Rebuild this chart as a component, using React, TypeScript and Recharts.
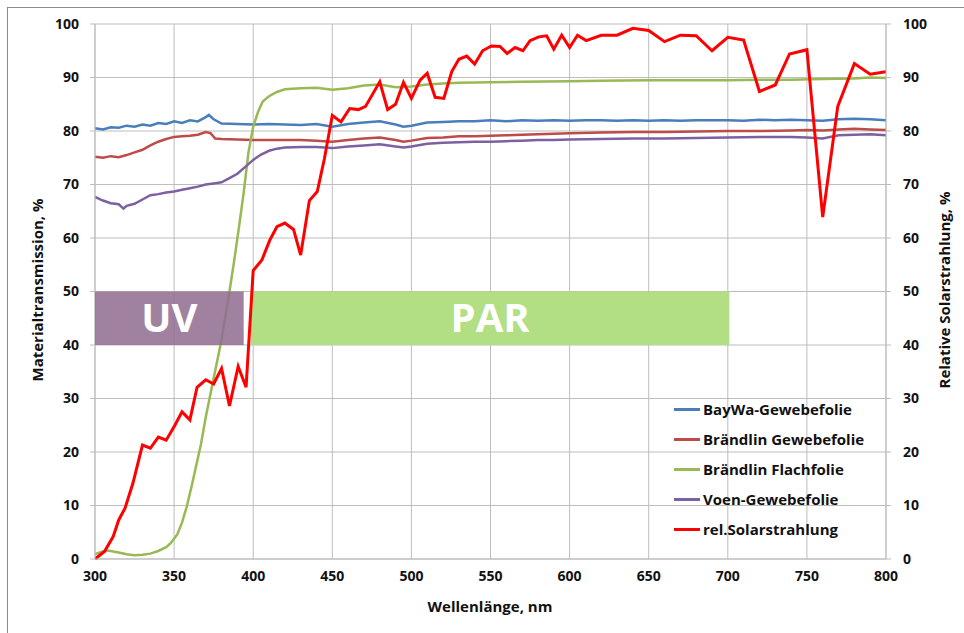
import { LineChart, Line, XAxis, YAxis, CartesianGrid, Legend, ReferenceArea } from 'recharts';

type Pt = [number, number];

const FONT = '"Open Sans", "Noto Sans", sans-serif';

const xTicks = [300, 350, 400, 450, 500, 550, 600, 650, 700, 750, 800];
const yTicks = [0, 10, 20, 30, 40, 50, 60, 70, 80, 90, 100];

// [wavelength nm, value %]
const bayWa: Pt[] = [
  [300, 80.5], [305, 80.3], [310, 80.7], [315, 80.6], [320, 81.0], [325, 80.8], [330, 81.2], [335, 81.0],
  [340, 81.5], [345, 81.3], [350, 81.8], [355, 81.5], [360, 82.0], [365, 81.8], [370, 82.6], [372, 83.0],
  [375, 82.2], [380, 81.4], [390, 81.3], [400, 81.2], [410, 81.3], [420, 81.2], [430, 81.1], [440, 81.3],
  [450, 80.8], [460, 81.3], [470, 81.6], [480, 81.8], [490, 81.2], [495, 80.8], [500, 81.0], [510, 81.6],
  [520, 81.7], [530, 81.8], [540, 81.8], [550, 82.0], [560, 81.8], [570, 82.0], [580, 81.9], [590, 82.0],
  [600, 81.9], [610, 82.0], [620, 82.0], [630, 81.9], [640, 82.0], [650, 81.9], [660, 82.0], [670, 81.9],
  [680, 82.0], [690, 82.0], [700, 82.0], [710, 81.9], [720, 82.1], [730, 82.0], [740, 82.1], [750, 82.0],
  [760, 81.9], [770, 82.2], [780, 82.3], [790, 82.2], [800, 82.0],
];

const braendlinGewebe: Pt[] = [
  [300, 75.2], [305, 75.0], [310, 75.3], [315, 75.1], [320, 75.5], [325, 76.0], [330, 76.5], [335, 77.3],
  [340, 78.0], [345, 78.5], [350, 78.9], [355, 79.0], [360, 79.1], [365, 79.3], [370, 79.8], [373, 79.6],
  [376, 78.6], [380, 78.5], [390, 78.4], [400, 78.3], [410, 78.3], [420, 78.3], [430, 78.3], [440, 78.2],
  [450, 78.0], [460, 78.3], [470, 78.6], [480, 78.8], [490, 78.3], [495, 78.0], [500, 78.2], [510, 78.7],
  [520, 78.8], [530, 79.0], [540, 79.0], [550, 79.1], [560, 79.2], [570, 79.3], [580, 79.4], [590, 79.5],
  [600, 79.6], [620, 79.7], [640, 79.8], [660, 79.8], [680, 79.9], [700, 80.0], [720, 80.0], [740, 80.1],
  [750, 80.2], [760, 80.1], [770, 80.3], [780, 80.4], [790, 80.3], [800, 80.2],
];

const braendlinFlach: Pt[] = [
  [300, 0.9], [305, 1.4], [308, 1.6], [315, 1.2], [320, 0.9], [325, 0.7], [330, 0.8], [335, 1.0],
  [340, 1.5], [345, 2.2], [348, 3.0], [352, 4.6], [355, 6.8], [358, 9.8], [361, 13.5], [364, 17.5],
  [367, 21.5], [370, 26.5], [375, 33.8], [380, 41.0], [385, 50.0], [388, 55.8], [391, 62.0], [394, 68.5],
  [397, 76.0], [400, 80.8], [403, 83.5], [406, 85.5], [410, 86.5], [415, 87.3], [420, 87.8], [430, 88.0],
  [440, 88.1], [450, 87.7], [460, 88.0], [470, 88.5], [480, 88.7], [490, 88.2], [500, 88.3], [510, 88.7],
  [520, 88.9], [530, 89.0], [550, 89.1], [570, 89.2], [600, 89.3], [620, 89.4], [650, 89.5], [680, 89.5],
  [700, 89.5], [720, 89.6], [740, 89.6], [760, 89.7], [780, 89.8], [790, 90.0], [800, 89.9],
];

const voen: Pt[] = [
  [300, 67.7], [305, 67.0], [310, 66.5], [315, 66.3], [318, 65.5], [320, 66.0], [325, 66.4], [330, 67.2],
  [335, 68.0], [340, 68.2], [345, 68.5], [350, 68.7], [355, 69.0], [360, 69.3], [365, 69.6], [370, 70.0],
  [375, 70.2], [380, 70.4], [385, 71.2], [390, 72.0], [395, 73.3], [400, 74.6], [405, 75.6], [410, 76.3],
  [415, 76.7], [420, 76.9], [430, 77.0], [440, 77.0], [450, 76.8], [460, 77.1], [470, 77.3], [480, 77.5],
  [490, 77.1], [495, 76.9], [500, 77.1], [510, 77.6], [520, 77.8], [530, 77.9], [540, 78.0], [550, 78.0],
  [560, 78.1], [570, 78.2], [580, 78.3], [590, 78.3], [600, 78.4], [620, 78.5], [640, 78.6], [660, 78.6],
  [680, 78.7], [700, 78.8], [720, 78.9], [740, 78.9], [750, 78.8], [760, 78.6], [770, 79.2], [780, 79.3],
  [790, 79.4], [800, 79.2],
];

const solar: Pt[] = [
  [300, 0], [306, 1.4], [311.5, 4.2], [315, 7.3], [319, 9.5], [324, 14.2], [330, 21.3], [335, 20.7],
  [340, 22.8], [345, 22.2], [350.5, 25], [355, 27.5], [360, 26], [364.5, 32.1], [370, 33.5], [375, 32.7],
  [380, 35.6], [385, 28.6], [390.5, 36], [395.5, 32.1], [400, 53.9], [405.5, 55.9], [410.5, 59.6], [415, 62.1],
  [420, 62.8], [425.5, 61.6], [430, 56.8], [435.5, 67], [440.5, 68.7], [445, 74.8], [450, 82.9], [455.5, 81.7],
  [461, 84.2], [466.5, 84], [471, 84.6], [480, 89.2], [485, 84], [490, 85], [495, 89.1], [500, 86.1],
  [505.5, 89.5], [510, 90.8], [515, 86.3], [520.5, 86.1], [525.5, 91.1], [530, 93.4], [535, 94], [540, 92.5],
  [545, 95], [550.5, 95.9], [556, 95.8], [560.5, 94.5], [565.5, 95.6], [570.5, 95], [575, 96.9], [580.5, 97.6],
  [585.5, 97.8], [590, 95.3], [595, 97.9], [600, 95.6], [605, 97.9], [610.5, 96.9], [620, 97.9], [630, 97.9],
  [640, 99.2], [650, 98.8], [660, 96.7], [670, 97.9], [680, 97.8], [690, 95], [700, 97.5], [710, 97],
  [720, 87.4], [730, 88.6], [739, 94.4], [750, 95.2], [760, 63.9], [769.5, 84.6], [780, 92.6], [790, 90.6],
  [800, 91.1],
];

const seriesNames = ['BayWa-Gewebefolie', 'Brändlin Gewebefolie', 'Brändlin Flachfolie', 'Voen-Gewebefolie', 'rel.Solarstrahlung'];
const seriesColors = ['#4a7ebb', '#be4b48', '#98b954', '#7d60a0', '#ff0000'];

const toPts = (arr: Pt[]) => arr.map(([nm, v]) => ({ nm, v }));

const tickStyle = { fontSize: 14, fontWeight: 700, fill: '#111', fontFamily: FONT };

const LegendBox = () => (
  <div style={{ fontFamily: FONT }}>
    {seriesNames.map((name, i) => (
      <div key={name} style={{ display: 'flex', alignItems: 'center', height: 30 }}>
        <div style={{ width: 26, height: 3, background: seriesColors[i], marginRight: 3 }} />
        <span style={{ fontSize: 15, fontWeight: 700, color: '#111', whiteSpace: 'nowrap' }}>{name}</span>
      </div>
    ))}
  </div>
);

export default function App() {
  return (
    <div style={{ position: 'absolute', left: 0, top: 0, width: 964, height: 633, overflow: 'hidden', background: '#fff', fontFamily: FONT }}>
      <div style={{ position: 'absolute', left: 7, top: 7, width: 990, height: 660, border: '1px solid #8c8c8c' }} />
      <LineChart width={964} height={633} margin={{ top: 24, right: 18, bottom: 44, left: 30 }} style={{ position: 'absolute', left: 0, top: 0 }}>
        <CartesianGrid stroke="#bdbdbd" strokeWidth={1} yAxisId="left" />
        <XAxis
          type="number"
          dataKey="nm"
          domain={[300, 800]}
          ticks={xTicks}
          allowDataOverflow
          height={30}
          tickSize={0}
          tickMargin={12}
          axisLine={{ stroke: '#bdbdbd' }}
          tick={tickStyle}
        />
        <YAxis
          yAxisId="left"
          domain={[0, 100]}
          ticks={yTicks}
          width={65}
          tickSize={5}
          tickMargin={11}
          axisLine={{ stroke: '#bdbdbd' }}
          tickLine={{ stroke: '#bdbdbd' }}
          tick={tickStyle}
        />
        <YAxis
          yAxisId="right"
          orientation="right"
          domain={[0, 100]}
          ticks={yTicks}
          width={60}
          tickSize={5}
          tickMargin={12}
          axisLine={{ stroke: '#bdbdbd' }}
          tickLine={{ stroke: '#bdbdbd' }}
          tick={{ ...tickStyle, textAnchor: 'start' }}
        />
        <ReferenceArea
          yAxisId="left"
          x1={398.5}
          x2={701}
          y1={40}
          y2={50}
          fill="#b2de84"
          fillOpacity={1}
          stroke="none"
          label={{ value: 'PAR', position: 'center', fill: '#fff', fontSize: 40, fontWeight: 700, fontFamily: FONT }}
        />
        <Line yAxisId="left" data={toPts(bayWa)} dataKey="v" name={seriesNames[0]} stroke={seriesColors[0]} strokeWidth={2.5} dot={false} type="linear" isAnimationActive={false} />
        <Line yAxisId="left" data={toPts(braendlinGewebe)} dataKey="v" name={seriesNames[1]} stroke={seriesColors[1]} strokeWidth={2.5} dot={false} type="linear" isAnimationActive={false} />
        <Line yAxisId="left" data={toPts(braendlinFlach)} dataKey="v" name={seriesNames[2]} stroke={seriesColors[2]} strokeWidth={2.5} dot={false} type="linear" isAnimationActive={false} />
        <Line yAxisId="left" data={toPts(voen)} dataKey="v" name={seriesNames[3]} stroke={seriesColors[3]} strokeWidth={2.5} dot={false} type="linear" isAnimationActive={false} />
        <Line yAxisId="right" data={toPts(solar)} dataKey="v" name={seriesNames[4]} stroke={seriesColors[4]} strokeWidth={3} dot={false} type="linear" isAnimationActive={false} />
        {/* UV band sits above the lines, the green curve shows through it */}
        <ReferenceArea
          yAxisId="left"
          x1={300}
          x2={394}
          y1={40}
          y2={50}
          fill="#8f6c8f"
          fillOpacity={0.85}
          stroke="none"
          zIndex={1000}
          label={{ value: 'UV', position: 'center', fill: '#fff', fontSize: 40, fontWeight: 700, fontFamily: FONT }}
        />
        <Legend
          layout="vertical"
          align="center"
          verticalAlign="middle"
          content={<LegendBox />}
          wrapperStyle={{ left: 674, top: 394, width: 210 }}
        />
      </LineChart>
      <div style={{ position: 'absolute', left: 390, width: 200, top: 596, textAlign: 'center', fontSize: 15, fontWeight: 700, color: '#111' }}>
        Wellenlänge, nm
      </div>
      <div style={{ position: 'absolute', left: 37, top: 290, transform: 'translate(-50%, -50%) rotate(-90deg)', fontSize: 15, fontWeight: 700, color: '#111', whiteSpace: 'nowrap' }}>
        Materialtransmission, %
      </div>
      <div style={{ position: 'absolute', left: 944, top: 290, transform: 'translate(-50%, -50%) rotate(-90deg)', fontSize: 15, fontWeight: 700, color: '#111', whiteSpace: 'nowrap' }}>
        Relative Solarstrahlung, %
      </div>
    </div>
  );
}
